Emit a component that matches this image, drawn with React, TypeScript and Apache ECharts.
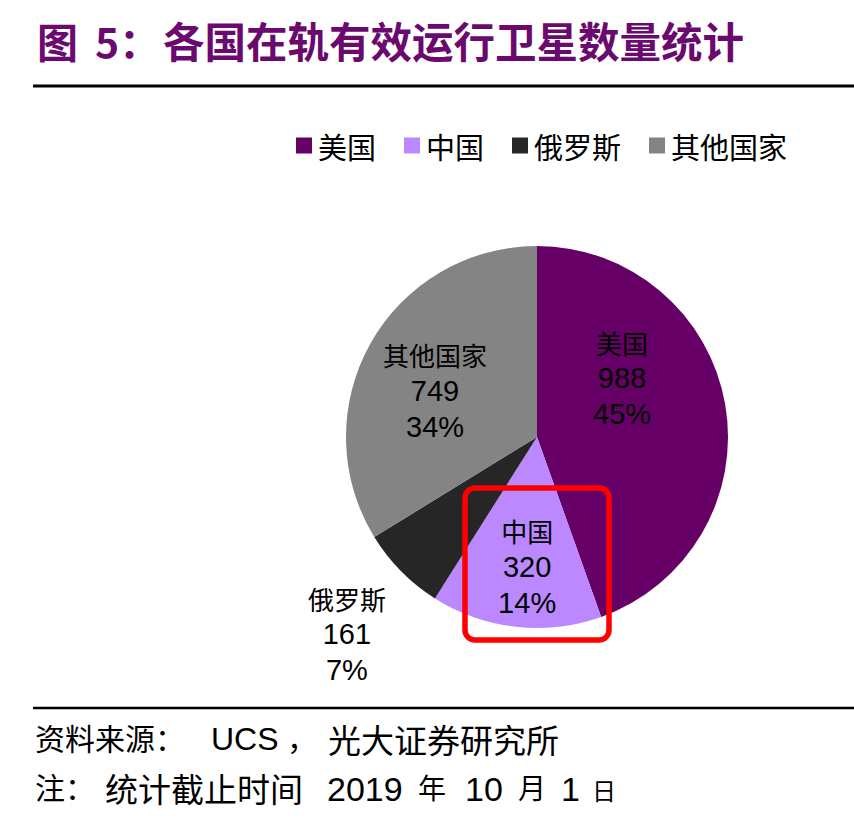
import React, { useEffect, useRef } from "react";
import * as echarts from "echarts";

const categories = ["美国", "中国", "俄罗斯", "其他国家"];
const satelliteCounts = [988, 320, 161, 749];
const sliceColors = ["#660066", "#BB88FF", "#262626", "#848484"];
// label nudges relative to the default inside position (dx, dy)
const labelNudges: [number, number][] = [
  [-12, -42],
  [1, 32],
  [-120, 128],
  [-16, 2],
];

const CJK = "'Noto Sans CJK SC', 'Noto Sans', sans-serif";
const LATIN = "'Liberation Sans', Arial, sans-serif";

export default function App() {
  const ref = useRef<HTMLDivElement>(null);
  useEffect(() => {
    if (!ref.current) return;
    const chart = echarts.init(ref.current, undefined, { renderer: "svg" });
    const data = categories.map((name, i) => ({
      name,
      value: satelliteCounts[i],
      itemStyle: { color: sliceColors[i] },
    }));
    chart.setOption({
      animation: false,
      backgroundColor: "#ffffff",
      legend: {
        data: categories,
        left: 291,
        top: 126,
        itemWidth: 16,
        itemHeight: 16,
        itemGap: 28,
        icon: "rect",
        textStyle: { fontSize: 29, color: "#000", fontFamily: CJK, padding: [0, 0, 0, 1] },
      },
      series: [
        {
          type: "pie",
          center: [537, 437],
          radius: [0, 191],
          startAngle: 90,
          clockwise: true,
          percentPrecision: 0,
          data,
          label: {
            show: true,
            position: "inside",
            formatter: "{n|{b}}\n{v|{c}}\n{v|{d}%}",
            rich: {
              n: { fontSize: 26, fontFamily: CJK, color: "#000", lineHeight: 36, align: "center" },
              v: { fontSize: 29, fontFamily: LATIN, color: "#000", lineHeight: 36, align: "center" },
            },
          },
          labelLine: { show: false },
          labelLayout: (params: any) => {
            const nd = labelNudges[params.dataIndex] || [0, 0];
            return { dx: nd[0], dy: nd[1] };
          },
          emphasis: { disabled: true },
        },
      ],
      graphic: [
        { type: "text", left: 37, top: 19, style: { text: "图", fontSize: 41, fontWeight: "bold", fontFamily: CJK, fill: "#6B0A6E" } },
        { type: "text", left: 95, top: 19, style: { text: "5：", fontSize: 41, fontWeight: "bold", fontFamily: CJK, fill: "#6B0A6E" } },
        { type: "text", left: 163, top: 19, style: { text: "各国在轨有效运行卫星数量统计", fontSize: 41.5, fontWeight: "bold", fontFamily: CJK, fill: "#6B0A6E" } },
        { type: "line", shape: { x1: 33, y1: 86, x2: 854, y2: 86 }, style: { stroke: "#000", lineWidth: 3 } },
        { type: "line", shape: { x1: 33, y1: 708, x2: 854, y2: 708 }, style: { stroke: "#000", lineWidth: 2.5 } },
        {
          type: "rect",
          shape: { x: 465, y: 488, width: 144, height: 152, r: 10 },
          style: { fill: "none", stroke: "#FF0000", lineWidth: 5.5 },
          z: 100,
        },
        { type: "text", left: 35, top: 722, style: { text: "资料来源：", fontSize: 30, fontFamily: CJK, fill: "#000" } },
        { type: "text", left: 211, top: 723, style: { text: "UCS", fontSize: 32, fontFamily: LATIN, fill: "#000" } },
        { type: "text", left: 287, top: 722, style: { text: "，", fontSize: 30, fontFamily: CJK, fill: "#000" } },
        { type: "text", left: 328, top: 722, style: { text: "光大证券研究所", fontSize: 33, fontFamily: CJK, fill: "#000" } },
        { type: "text", left: 35, top: 771, style: { text: "注：", fontSize: 30, fontFamily: CJK, fill: "#000" } },
        { type: "text", left: 105, top: 771, style: { text: "统计截止时间", fontSize: 33, fontFamily: CJK, fill: "#000" } },
        { type: "text", left: 327, top: 772, style: { text: "2019", fontSize: 34, fontFamily: LATIN, fill: "#000" } },
        { type: "text", left: 418, top: 773, style: { text: "年", fontSize: 28, fontFamily: CJK, fill: "#000" } },
        { type: "text", left: 465, top: 772, style: { text: "10", fontSize: 34, fontFamily: LATIN, fill: "#000" } },
        { type: "text", left: 518, top: 773, style: { text: "月", fontSize: 28, fontFamily: CJK, fill: "#000" } },
        { type: "text", left: 561, top: 772, style: { text: "1", fontSize: 34, fontFamily: LATIN, fill: "#000" } },
        { type: "text", left: 592, top: 777, style: { text: "日", fontSize: 24, fontFamily: CJK, fill: "#000" } },
      ],
    });
    return () => chart.dispose();
  }, []);
  return (
    <div
      ref={ref}
      style={{ position: "fixed", left: 0, top: 0, width: 854, height: 822, background: "#fff" }}
    />
  );
}
